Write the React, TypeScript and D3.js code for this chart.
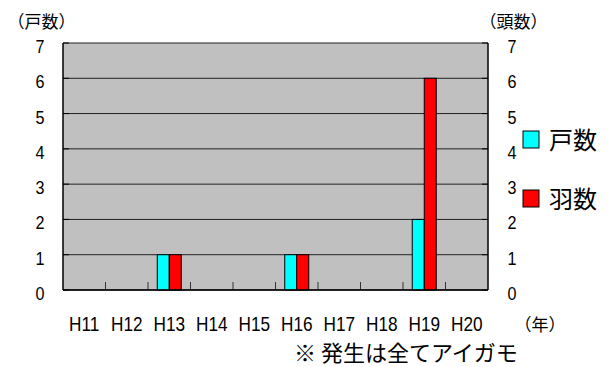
import React from "react";
import * as d3 from "d3";

const categories = ["H11", "H12", "H13", "H14", "H15", "H16", "H17", "H18", "H19", "H20"];
const households = [0, 0, 1, 0, 0, 1, 0, 0, 2, 0];
const birds = [0, 0, 1, 0, 0, 1, 0, 0, 6, 0];
const yTicks = [0, 1, 2, 3, 4, 5, 6, 7];
const seriesNames = ["戸数", "羽数"];
const seriesColors = ["#00ffff", "#ff0000"];

const W = 611, H = 367;
const left = 63, right = 488, top = 43, bottom = 290;
const numFont = "'Liberation Sans', sans-serif";
const jpFont = "'Noto Sans CJK JP', sans-serif";

export default function App() {
  const x = d3.scaleBand<string>().domain(categories).range([left, right]).padding(0);
  const y = d3.scaleLinear().domain([0, 7]).range([bottom, top]);
  const sub = d3.scaleBand<string>().domain(["0", "1"]).range([0, 24]);
  const series = [households, birds];
  const bw = x.bandwidth();
  return (
    <svg width={W} height={H} style={{ position: "absolute", left: 0, top: 0, background: "#fff" }}>
      <rect x={left} y={top} width={right - left} height={bottom - top} fill="#c0c0c0" />
      {yTicks.map((t) => (
        <line key={"g" + t} x1={left} x2={right} y1={y(t)} y2={y(t)} stroke="#222" strokeWidth={1} />
      ))}
      {categories.slice(1).map((c) => (
        <line key={"xt" + c} x1={x(c)!} x2={x(c)!} y1={bottom} y2={bottom - 8} stroke="#333" strokeWidth={1} />
      ))}
      {series.map((vals, si) =>
        vals.map((v, i) =>
          v > 0 ? (
            <rect
              key={si + "-" + i}
              x={x(categories[i])! + bw / 2 - 12 + sub(String(si))!}
              y={y(v)}
              width={sub.bandwidth()}
              height={bottom - y(v)}
              fill={seriesColors[si]}
              stroke="#000"
              strokeWidth={1}
            />
          ) : null
        )
      )}
      <line x1={left} x2={left} y1={top} y2={bottom} stroke="#000" strokeWidth={1.5} />
      <line x1={right} x2={right} y1={top} y2={bottom} stroke="#000" strokeWidth={1.5} />
      <line x1={left} x2={right} y1={bottom} y2={bottom} stroke="#000" strokeWidth={1.5} />
      {yTicks.map((t) => (
        <g key={"l" + t} fontFamily={numFont}>
          <line x1={left} x2={left + 6} y1={y(t)} y2={y(t)} stroke="#000" />
          <line x1={right - 6} x2={right} y1={y(t)} y2={y(t)} stroke="#000" />
          <text transform={`translate(40,${y(t) + 10}) scale(0.85,1)`} fontSize={19} textAnchor="middle" fill="#000">{t}</text>
          <text transform={`translate(512,${y(t) + 10}) scale(0.85,1)`} fontSize={19} textAnchor="middle" fill="#000">{t}</text>
        </g>
      ))}
      {categories.map((c) => (
        <text key={"xl" + c} transform={`translate(${x(c)! + bw / 2},331) scale(0.82,1)`} fontSize={21} fontFamily={numFont} textAnchor="middle" fill="#000">{c}</text>
      ))}
      <g fontFamily={jpFont} fill="#000">
        <text x={41.5} y={28} fontSize={17} textAnchor="middle">（戸数）</text>
        <text x={513.5} y={28} fontSize={17} textAnchor="middle">（頭数）</text>
        <text x={540} y={331} fontSize={17} textAnchor="middle">（年）</text>
        <text x={294} y={361} fontSize={22}>※ 発生は全てアイガモ</text>
        {seriesNames.map((n, i) => (
          <g key={"lg" + i}>
            <rect x={523} y={131 + i * 59} width={16} height={17} fill={seriesColors[i]} stroke="#000" />
            <text x={549} y={140 + i * 59} dy="0.36em" fontSize={24}>{n}</text>
          </g>
        ))}
      </g>
    </svg>
  );
}
